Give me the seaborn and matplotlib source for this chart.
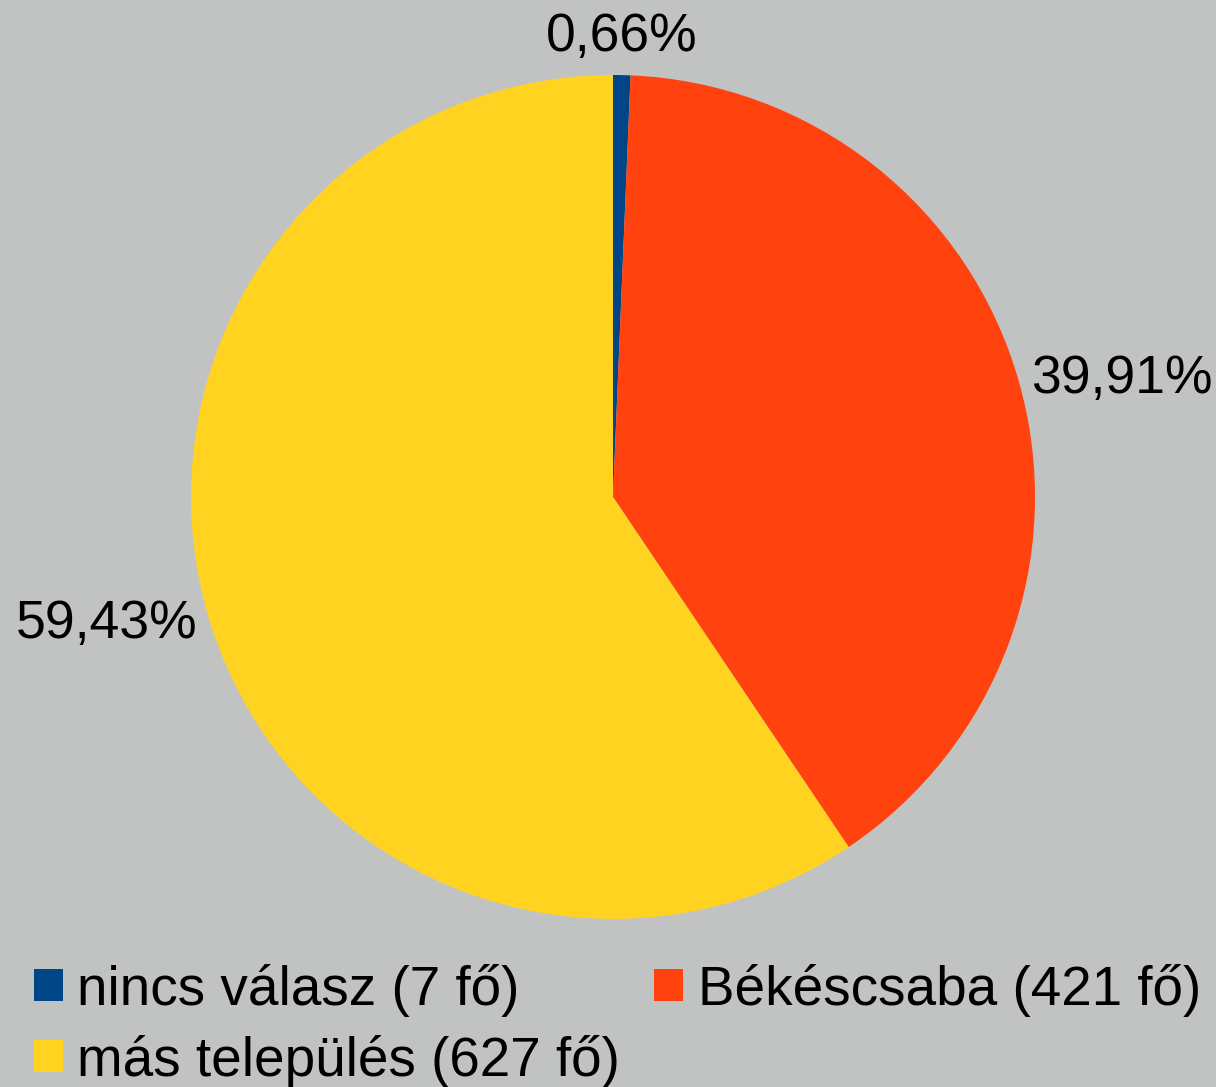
import numpy as np
import matplotlib
matplotlib.use("Agg")
import matplotlib.pyplot as plt
from matplotlib.patches import Patch
import seaborn as sns

# data
categories = ["nincs válasz", "Békéscsaba", "más település"]
counts = [7, 421, 627]
colors = ["#004586", "#FF420E", "#FFD320"]

sns.set_style("white")
plt.rcParams["font.family"] = ["Liberation Sans", "DejaVu Sans"]
plt.rcParams["text.color"] = "black"

bg = "#C1C3C3"
fig = plt.figure(figsize=(12.16, 10.87), dpi=100, facecolor=bg)

# pie axes: centre (613, 497) px, radius 422 px
W, H = 1216, 1087
cx, cy, r = 613, H - 497, 422
ax = fig.add_axes([(cx - r) / W, (cy - r) / H, 2 * r / W, 2 * r / H])
ax.set_facecolor("none")

wedges, _ = ax.pie(counts, colors=colors, startangle=90, counterclock=False,
                   radius=1, wedgeprops=dict(linewidth=0))
ax.set_xlim(-1, 1)
ax.set_ylim(-1, 1)
ax.axis("off")

# percentage labels outside the slices
total = sum(counts)
for w, c in zip(wedges, counts):
    pct = f"{100 * c / total:.2f}".replace(".", ",") + "%"
    ang = np.deg2rad((w.theta1 + w.theta2) / 2)
    x, y = 1.03 * np.cos(ang), 1.03 * np.sin(ang)
    if abs(x) < 0.2:
        ha, va = "center", "bottom"
    else:
        ha = "left" if x > 0 else "right"
        va = "center"
    ax.text(x, y, pct, ha=ha, va=va, fontsize=38.5, color="black", clip_on=False)

# legend: row 1 = nincs válasz, Békéscsaba ; row 2 = más település
labels = [f"{cat} ({n} fő)" for cat, n in zip(categories, counts)]
order = [0, 2, 1]
handles = [Patch(facecolor=colors[i], edgecolor="none") for i in order]
leg = fig.legend(handles, [labels[i] for i in order], ncol=2, loc="lower left",
                 bbox_to_anchor=(-0.013, -0.046), frameon=False, fontsize=39.5,
                 handlelength=0.53, handleheight=0.53, handletextpad=0.27,
                 columnspacing=0.62, labelspacing=0.33)
for t in leg.get_texts():
    t.set_color("black")

fig.savefig("out.png", dpi=100, facecolor=bg)
